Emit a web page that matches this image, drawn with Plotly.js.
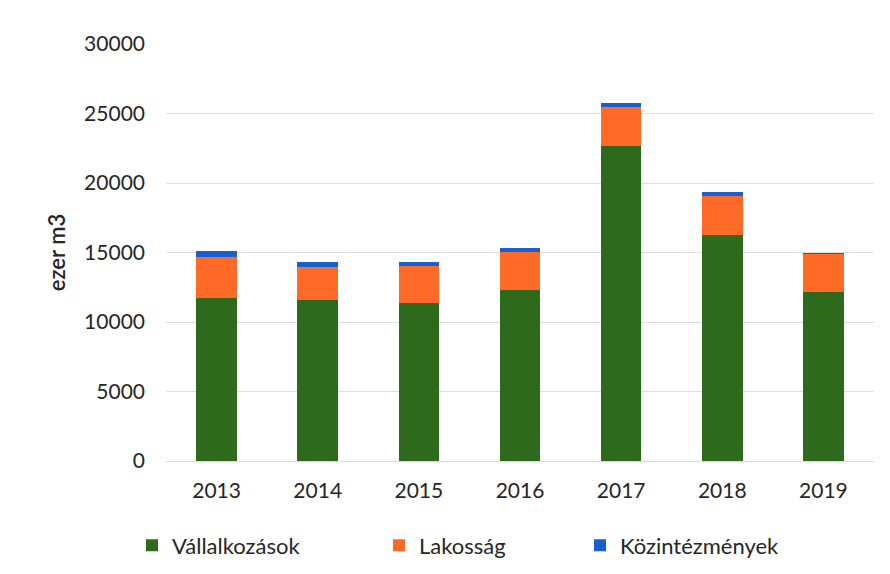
<!DOCTYPE html>
<html>
<head>
<meta charset="utf-8">
<script src="https://cdn.plot.ly/plotly-3.0.1.min.js"></script>
<style>html,body{margin:0;padding:0;background:#fff;}#chart{width:890px;height:574px;}</style>
</head>
<body>
<div id="chart"></div>
<script>
var years = ["2013", "2014", "2015", "2016", "2017", "2018", "2019"];
var vallalkozasok = [11760, 11570, 11370, 12330, 22650, 16240, 12160];
var lakossag = [2940, 2390, 2640, 2710, 2850, 2820, 2710];
var kozintezmenyek = [400, 360, 340, 280, 270, 290, 120];
var yTicks = [0, 5000, 10000, 15000, 20000, 25000, 30000];

var FONT = "Lato, 'Open Sans', sans-serif";
var traces = [
  {type: "bar", name: "Vállalkozások", x: years, y: vallalkozasok, marker: {color: "#2d6a1b"}, legend: "legend"},
  {type: "bar", name: "Lakosság", x: years, y: lakossag, marker: {color: "#ff6b27"}, legend: "legend2"},
  {type: "bar", name: "Közintézmények", x: years, y: kozintezmenyek, marker: {color: "#1a5fcf"}, legend: "legend3"}
];
function leg(px) {
  return {xref: "container", yref: "container", x: px / 890, y: 28.5 / 574, xanchor: "left", yanchor: "middle",
          orientation: "h", font: {family: FONT, size: 22, color: "#262626"}, bgcolor: "rgba(0,0,0,0)"};
}
var layout = {
  width: 890, height: 574,
  margin: {l: 166, r: 16, t: 44, b: 113},
  paper_bgcolor: "#ffffff", plot_bgcolor: "#ffffff",
  barmode: "stack", bargap: 0.6,
  font: {family: FONT, size: 21, color: "#262626"},
  showlegend: true,
  legend: leg(132), legend2: leg(379), legend3: leg(580),
  xaxis: {type: "category", showgrid: false, zeroline: false, showline: false, ticks: "", ticklabelstandoff: 15,
          tickfont: {family: FONT, size: 21, color: "#262626"}},
  yaxis: {range: [0, 30000], tickvals: yTicks, ticktext: yTicks.map(String), showgrid: true, gridcolor: "#dcdcdc", gridwidth: 1,
          zeroline: true, zerolinecolor: "#dcdcdc", showline: false, ticks: "", ticklabelstandoff: 20,
          tickfont: {family: FONT, size: 21, color: "#262626"},
          title: {text: "ezer m3", standoff: 12, font: {family: FONT, size: 22, color: "#262626", weight: 600}}}
};
Plotly.newPlot("chart", traces, layout, {displayModeBar: false, staticPlot: true});
</script>
</body>
</html>
